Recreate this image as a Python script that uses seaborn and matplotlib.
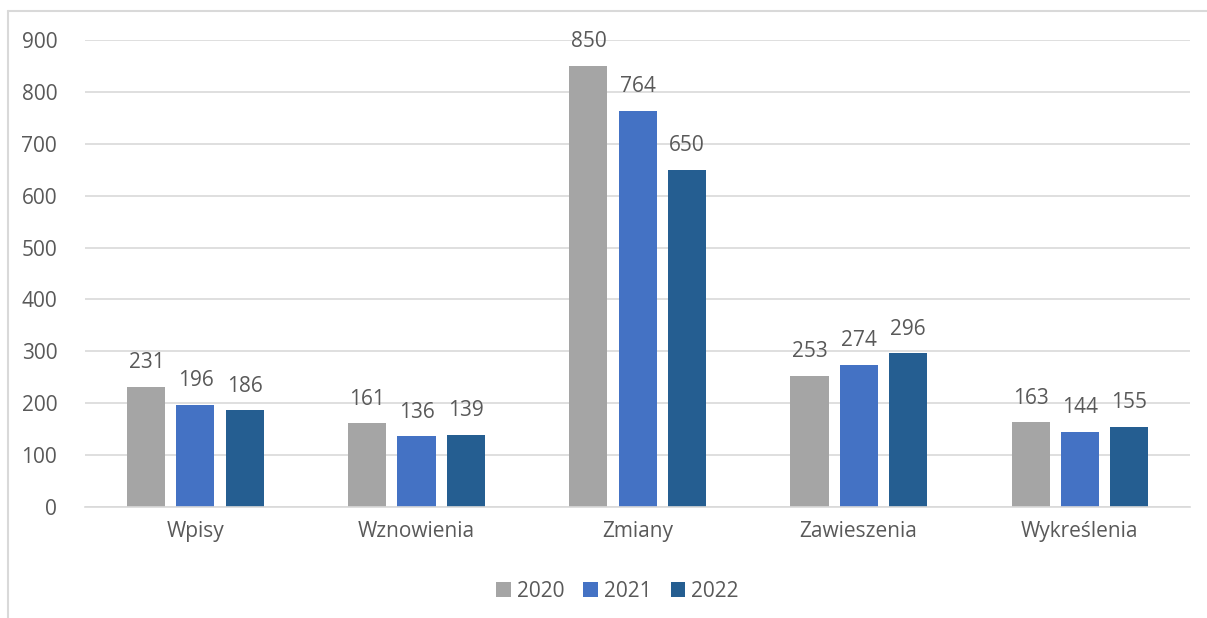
import pandas as pd
import matplotlib.pyplot as plt
import seaborn as sns

# data
categories = ['Wpisy', 'Wznowienia', 'Zmiany', 'Zawieszenia', 'Wykreślenia']
years = ['2020', '2021', '2022']
v2020 = [231, 161, 850, 253, 163]
v2021 = [196, 136, 764, 274, 144]
v2022 = [186, 139, 650, 296, 155]

df = pd.DataFrame({
    'kategoria': categories * 3,
    'rok': [years[0]] * 5 + [years[1]] * 5 + [years[2]] * 5,
    'liczba': v2020 + v2021 + v2022,
})

sns.set_theme(style='white')
plt.rcParams['font.family'] = ['Open Sans', 'DejaVu Sans']
txt = '#595959'
fs = 15

fig = plt.figure(figsize=(12.07, 6.18), dpi=100)
ax = fig.add_axes([0.0704, 0.1796, 0.9156, 0.7557])

palette = {'2020': '#A5A5A5', '2021': '#4472C4', '2022': '#255E91'}
sns.barplot(data=df, x='kategoria', y='liczba', hue='rok', order=categories,
            hue_order=years, palette=palette, width=0.666, gap=0.225,
            saturation=1, ax=ax, legend=True, linewidth=0)

for c in ax.containers:
    ax.bar_label(c, padding=10, fontsize=fs, color=txt)

ax.set_ylim(0, 900)
ax.set_yticks(range(0, 901, 100))
ax.yaxis.grid(True, color='#D9D9D9', linewidth=1.2)
ax.set_axisbelow(True)
for s in ['top', 'right', 'left']:
    ax.spines[s].set_visible(False)
ax.spines['bottom'].set_color('#D9D9D9')
ax.spines['bottom'].set_linewidth(1.2)
ax.tick_params(axis='both', length=0, labelsize=fs, labelcolor=txt)
ax.tick_params(axis='y', pad=20)
ax.tick_params(axis='x', pad=10)
ax.set_xlabel('')
ax.set_ylabel('')

handles, labels = ax.get_legend_handles_labels()
ax.legend(handles, labels, loc='center', bbox_to_anchor=(0.482, -0.18),
          ncol=3, frameon=False, fontsize=fs, labelcolor=txt,
          handlelength=0.7, handleheight=0.7, handletextpad=0.3,
          columnspacing=0.9)

# outer chart frame (top and left edge visible)
fig.add_artist(plt.Line2D([8 / 1207, 1], [1 - 11 / 618] * 2, color='#D9D9D9', lw=1.5))
fig.add_artist(plt.Line2D([8 / 1207] * 2, [0, 1 - 11 / 618], color='#D9D9D9', lw=1.5))

fig.savefig('out.png', dpi=100)
